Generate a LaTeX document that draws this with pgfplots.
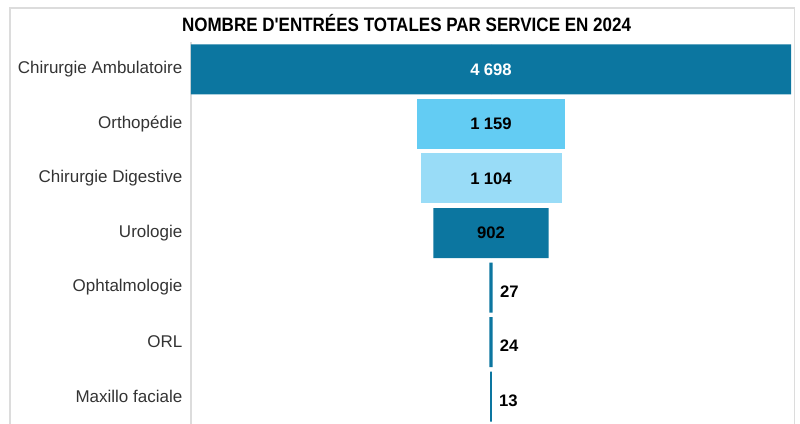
\documentclass[border=0pt]{standalone}
\usepackage{fontspec}
\setmainfont{Liberation Sans}
\newfontfamily\titlefont[FakeStretch=0.88]{Liberation Sans}
\usepackage{pgfplots}
\pgfplotsset{compat=1.18}
\usepackage{pgfplotstable}

\definecolor{darkblue}{HTML}{0C76A0}
\definecolor{midblue}{HTML}{63CCF3}
\definecolor{paleblue}{HTML}{99DCF7}
\definecolor{framegray}{HTML}{DCDCDC}

% rows are counted from the top; each bar is drawn as two halves around 0
\pgfplotstableread{
row value
0 4698
3 902
4 27
5 24
6 13
}\darkrows
\pgfplotstableread{
row value
1 1159
}\midrows
\pgfplotstableread{
row value
2 1104
}\palerows

\begin{document}
\begin{tikzpicture}
\path[use as bounding box] (0,0) rectangle (600pt,318pt);
\draw[framegray, line width=0.8pt] (7.5pt,0) -- (7.5pt,312pt) -- (596pt,312pt) -- (596pt,0);
\node[anchor=base, font=\titlefont\bfseries\fontsize{14.5pt}{16pt}\selectfont]
  at (304.9pt,294.5pt) {NOMBRE D'ENTRÉES TOTALES PAR SERVICE EN 2024};

\begin{axis}[at={(143.25pt,0pt)}, anchor=south west,
  width=450pt, height=286.5pt, scale only axis,
  xmin=-2349, xmax=2349, ymin=-0.5, ymax=6.5, y dir=reverse,
  axis x line=none, axis y line*=left,
  axis line style={framegray, line width=0.8pt},
  xtick=\empty, ytick={0,...,6},
  yticklabels={Chirurgie Ambulatoire, Orthopédie, Chirurgie Digestive,
    Urologie, Ophtalmologie, ORL, Maxillo faciale},
  major tick length=0pt,
  yticklabel style={font=\fontsize{12.75pt}{14pt}\selectfont, text=black!80, xshift=-3pt},
  /pgf/number format/1000 sep={\hspace{0.25em}},
  /pgf/number format/assume math mode=true,
  clip=false]

% bars
\addplot[xbar, bar width=37.5pt, bar shift=0pt, fill=darkblue, draw=none]
  table[x expr=\thisrow{value}/2, y=row] {\darkrows};
\addplot[xbar, bar width=37.5pt, bar shift=0pt, fill=darkblue, draw=none]
  table[x expr=-\thisrow{value}/2, y=row] {\darkrows};
\addplot[xbar, bar width=37.5pt, bar shift=0pt, fill=midblue, draw=none]
  table[x expr=\thisrow{value}/2, y=row] {\midrows};
\addplot[xbar, bar width=37.5pt, bar shift=0pt, fill=midblue, draw=none]
  table[x expr=-\thisrow{value}/2, y=row] {\midrows};
\addplot[xbar, bar width=37.5pt, bar shift=0pt, fill=paleblue, draw=none]
  table[x expr=\thisrow{value}/2, y=row] {\palerows};
\addplot[xbar, bar width=37.5pt, bar shift=0pt, fill=paleblue, draw=none]
  table[x expr=-\thisrow{value}/2, y=row] {\palerows};

% value labels
\pgfplotsset{lbl/.style={draw=none, mark=none, nodes near coords, point meta=explicit,
  every node near coord/.append style={font=\bfseries\fontsize{12.5pt}{14pt}\selectfont, #1}}}
\addplot[lbl={text=white, anchor=center}, skip coords between index={1}{5}]
  table[x expr=0, y=row, meta=value] {\darkrows};
\addplot[lbl={text=black, anchor=center}, skip coords between index={0}{1}, skip coords between index={2}{5}]
  table[x expr=0, y=row, meta=value] {\darkrows};
\addplot[lbl={text=black, anchor=center}]
  table[x expr=0, y=row, meta=value] {\midrows};
\addplot[lbl={text=black, anchor=center}]
  table[x expr=0, y=row, meta=value] {\palerows};
\addplot[lbl={text=black, anchor=west, xshift=2pt, yshift=-3pt}, skip coords between index={0}{2}]
  table[x expr=\thisrow{value}/2, y=row, meta=value] {\darkrows};
\end{axis}
\end{tikzpicture}
\end{document}
